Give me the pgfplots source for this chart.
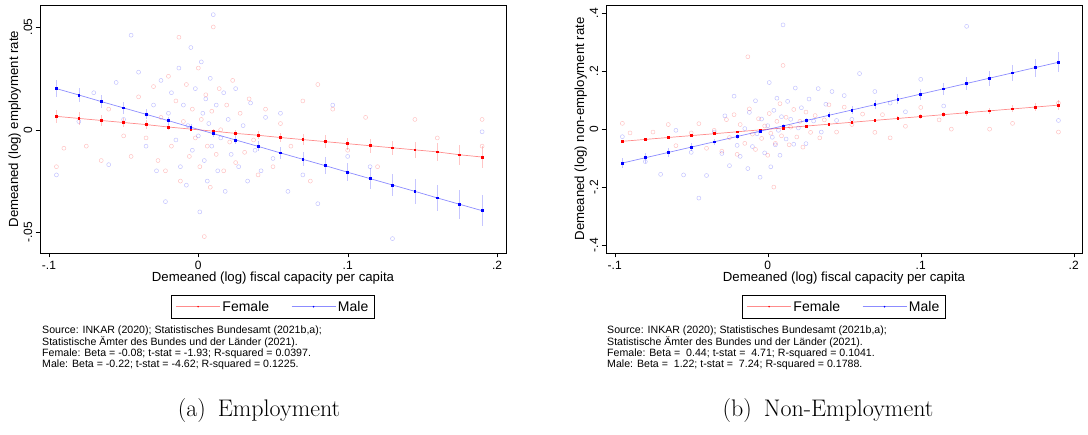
\documentclass[border=0pt]{standalone}
\usepackage{pgfplots}
\usepackage{pgfplotstable}
\pgfplotsset{compat=1.18}
\usepackage{fontspec}
\setsansfont{Liberation Sans}
\pgfplotstableread{
x y yy s
-0.095 -0.022 -0.026 2
-0.08 0.004 -0.112 2
-0.07 0.018 -0.156 2.5
-0.06 -0.017 -0.004 3
-0.055 0.023 -0.158 1.5
-0.05 0.005 -0.08 2
-0.045 0.046 -0.238 1.2
-0.04 0.028 -0.16 2
-0.035 -0.008 -0.01 4
-0.03 0.012 -0.084 5
-0.028 -0.02 0.046 2
-0.025 0.024 -0.126 3
-0.022 -0.035 0.114 4
-0.02 0.008 -0.056 6
-0.018 0.018 -0.094 5
-0.015 -0.005 0.002 4
-0.013 0.03 -0.136 3
-0.012 -0.018 0.058 5
-0.01 0.012 -0.06 6
-0.008 -0.027 0.098 4
-0.007 0.002 -0.016 5
-0.005 0.04 -0.166 3
-0.004 -0.01 0.035 6
-0.002 0.02 -0.082 4
0 -0.003 0.012 5
0.001 -0.04 0.161 2
0.002 0.033 -0.13 5
0.003 0.008 -0.028 4
0.004 -0.015 0.065 6
0.005 0.015 -0.054 3
0.006 -0.025 0.107 4
0.007 0.003 -0.004 5
0.008 0.025 -0.09 4
0.009 -0.008 0.043 6
0.01 0.056 0.36 2
0.012 0.012 -0.034 4
0.013 -0.02 0.096 5
0.015 -0.004 0.034 3
0.017 0.018 -0.052 5
0.018 -0.03 0.142 3
0.02 0.005 0.004 4
0.022 -0.012 0.074 5
0.025 0.02 -0.05 3
0.027 -0.018 0.104 4
0.03 0.002 0.028 3
0.033 -0.025 0.14 3
0.035 0.013 -0.01 2
0.038 -0.01 0.086 4
0.042 -0.02 0.13 5
0.045 0.006 0.03 2
0.05 -0.014 0.116 3
0.055 0.008 0.034 2
0.06 -0.03 0.192 2
0.07 -0.022 0.13 2
0.08 -0.036 0.09 5
0.09 0.012 0.06 2
0.1 -0.013 0.172 1.5
0.115 -0.018 0.08 1.5
0.13 -0.053 0.355 1.5
0.19 -0.001 0.03 1.5
}\blue
\pgfplotstableread{
x y yy s
-0.095 -0.018 0.02 3
-0.09 -0.009 -0.013 1.5
-0.075 -0.008 -0.01 2
-0.065 -0.015 0.016 3
-0.06 0.01 -0.057 2
-0.05 -0.003 -0.013 2
-0.045 -0.013 0.019 2
-0.04 0.016 -0.066 2
-0.035 -0.004 -0.004 3
-0.03 0.021 -0.076 4
-0.027 -0.015 0.033 3
-0.025 0.006 -0.029 6
-0.022 -0.02 0.05 3
-0.02 0.026 -0.087 3
-0.018 -0.008 0.016 5
-0.015 0.014 -0.049 4
-0.013 0.045 0.25 1.5
-0.012 -0.025 0.07 4
-0.01 0.004 -0.017 6
-0.008 0.022 -0.07 5
-0.006 -0.013 0.036 5
-0.004 0.01 -0.032 4
-0.002 -0.004 0.011 6
0 0.03 -0.09 3
0.001 -0.018 0.054 5
0.002 0.005 -0.014 5
0.004 -0.052 -0.2 1.5
0.005 0.017 -0.049 4
0.006 -0.008 0.027 6
0.008 -0.028 0.088 3
0.009 0.009 -0.023 5
0.01 0.05 0.22 3
0.012 -0.012 0.041 5
0.014 0.02 -0.054 4
0.015 0 0.007 5
0.017 -0.02 0.068 4
0.019 0.012 -0.027 3
0.021 -0.006 0.027 5
0.023 0.024 -0.062 3
0.025 -0.016 0.059 4
0.028 0.008 -0.011 4
0.031 -0.011 0.047 3
0.034 0.015 -0.03 3
0.037 -0.005 0.032 5
0.04 -0.022 0.084 3
0.045 0.01 -0.01 3
0.05 -0.018 0.076 6
0.055 0.003 0.016 2
0.062 -0.008 0.052 2
0.07 0.014 -0.011 2
0.075 -0.025 0.05 6
0.08 0.022 -0.03 1.5
0.09 0.01 0.01 2
0.1 -0.01 0.075 1.5
0.112 0.006 0.032 1.5
0.12 -0.018 0 1.5
0.145 0.005 0 1.5
0.16 -0.004 0.02 1.5
0.19 0.005 -0.01 1.5
0.19 -0.008 0.09 1.5
}\red
\pgfplotstableread{
x f fe m me F FE M ME
-0.095 0.0065 0.003 0.0200 0.004 -0.0420 0.006 -0.1170 0.018
-0.080 0.0055 0.003 0.0169 0.0035 -0.0354 0.006 -0.0987 0.017
-0.065 0.0045 0.0025 0.0137 0.003 -0.0288 0.005 -0.0804 0.015
-0.050 0.0035 0.002 0.0106 0.0028 -0.0223 0.005 -0.0620 0.013
-0.035 0.0025 0.002 0.0075 0.0025 -0.0157 0.004 -0.0437 0.011
-0.020 0.0013 0.0015 0.0044 0.002 -0.0091 0.004 -0.0254 0.009
-0.005 0.0003 0.001 0.0012 0.0015 -0.0025 0.003 -0.0071 0.007
0.010 -0.0007 0.001 -0.0019 0.0015 0.0041 0.003 0.0112 0.007
0.025 -0.0018 0.0015 -0.0050 0.002 0.0106 0.004 0.0296 0.009
0.040 -0.0027 0.002 -0.0081 0.0025 0.0172 0.004 0.0479 0.011
0.055 -0.0038 0.002 -0.0113 0.003 0.0238 0.005 0.0662 0.013
0.070 -0.0048 0.0025 -0.0144 0.0035 0.0304 0.006 0.0845 0.015
0.085 -0.0058 0.003 -0.0175 0.004 0.0370 0.007 0.1028 0.017
0.100 -0.0068 0.003 -0.0207 0.0045 0.0435 0.008 0.1212 0.019
0.115 -0.0078 0.0035 -0.0238 0.005 0.0501 0.009 0.1395 0.021
0.130 -0.0088 0.0035 -0.0269 0.0055 0.0567 0.010 0.1578 0.023
0.145 -0.0098 0.004 -0.0300 0.006 0.0633 0.011 0.1761 0.026
0.160 -0.0108 0.0045 -0.0332 0.0065 0.0699 0.012 0.1944 0.028
0.175 -0.0122 0.005 -0.0363 0.007 0.0764 0.013 0.2128 0.031
0.190 -0.0133 0.0055 -0.0394 0.0075 0.0830 0.016 0.2310 0.035
}\bins
\pgfplotsset{
  base/.style={scale only axis, height=248pt, font=\sffamily\fontsize{12}{13}\selectfont,
    /pgf/number format/assume math mode=true, scaled y ticks=false,
    tick style={black}, xtick={-0.1,0,0.1,0.2}, xticklabels={-.1,0,.1,.2},
    yticklabel style={rotate=90}, tick align=outside, xtick pos=bottom, ytick pos=left,
    axis line style={black, line width=0.8pt}, clip=true,
    xlabel={Demeaned (log) fiscal capacity per capita},
    xlabel style={font=\sffamily\fontsize{13.2}{14}\selectfont, yshift=4pt},
    ylabel style={font=\sffamily\fontsize{13.2}{14}\selectfont, yshift=-4pt},
    legend columns=2, legend cell align=left,
    legend style={at={(0.5,-0.168)}, anchor=north, draw=black, font=\sffamily\fontsize{14}{15}\selectfont,
      /tikz/every even column/.append style={column sep=20pt}, inner sep=4pt},
    legend image code/.code={\draw[#1, mark=none] (0cm,0cm) -- (1.55cm,0cm); \fill[#1, draw opacity=0, fill opacity=1] (0.775cm,0cm) circle (0.9pt);},
  },
  sc/.style={only marks, forget plot, scatter, point meta=0, point meta min=0, point meta max=1,
    mark=o, visualization depends on={\thisrow{s}\as\sz},
    scatter/@pre marker code/.append style={/tikz/mark size=\sz},
    scatter/use mapped color={draw=#1, draw opacity=0.25, fill=none}, line width=0.45pt},
  bn/.style={#1, draw opacity=0.45, line width=0.7pt, mark=square*, mark size=0.9pt,
    mark options={#1, draw opacity=1, fill opacity=1},
    error bars/.cd, y dir=both, y explicit, error bar style={#1!50, line width=0.6pt}, error mark=none},
}
\begin{document}
\begin{tikzpicture}
\path (0pt,0pt) rectangle (1088pt,-435pt);
\begin{axis}[base, at={(40pt,-253pt)}, anchor=south west, width=466pt,
  xmin=-0.106, xmax=0.206, ymin=-0.060, ymax=0.0607,
  ytick={-0.05,0,0.05}, yticklabels={-.05,0,.05},
  ylabel={Demeaned (log) employment rate}]
\addplot[sc=red] table[x=x,y=y] {\red};
\addplot[sc=blue] table[x=x,y=y] {\blue};
\addplot[bn=red] table[x=x,y=f,y error=fe] {\bins};
\addlegendentry{Female}
\addplot[bn=blue] table[x=x,y=m,y error=me] {\bins};
\addlegendentry{Male}
\end{axis}
\begin{axis}[base, at={(606pt,-253pt)}, anchor=south west, width=476pt,
  xmin=-0.1057, xmax=0.2054, ymin=-0.4276, ymax=0.4287,
  ytick={-0.4,-0.2,0,0.2,0.4}, yticklabels={-.4,-.2,0,.2,.4},
  ylabel={Demeaned (log) non-employment rate}]
\addplot[sc=red] table[x=x,y=yy] {\red};
\addplot[sc=blue] table[x=x,y=yy] {\blue};
\addplot[bn=red] table[x=x,y=F,y error=FE] {\bins};
\addlegendentry{Female}
\addplot[bn=blue] table[x=x,y=M,y error=ME] {\bins};
\addlegendentry{Male}
\end{axis}
\node[anchor=north west, align=left, inner sep=0pt, font=\sffamily\fontsize{10.6}{11.2}\selectfont] at (42pt,-326pt)
{Source: INKAR (2020); Statistisches Bundesamt (2021b,a);\\Statistische Ämter des Bundes und der Länder (2021).\\Female: Beta = -0.08; t-stat = -1.93; R-squared = 0.0397.\\Male: Beta = -0.22; t-stat = -4.62; R-squared = 0.1225.};
\node[anchor=north west, align=left, inner sep=0pt, font=\sffamily\fontsize{10.6}{11.2}\selectfont] at (607pt,-326pt)
{Source: INKAR (2020); Statistisches Bundesamt (2021b,a);\\Statistische Ämter des Bundes und der Länder (2021).\\Female: Beta = \ 0.44; t-stat = \ 4.71; R-squared = 0.1041.\\Male: Beta = \ 1.22; t-stat = \ 7.24; R-squared = 0.1788.};
\node[font=\fontsize{24}{28}\selectfont] at (259pt,-411pt) {(a)\enspace Employment};
\node[font=\fontsize{24}{28}\selectfont] at (828pt,-411pt) {(b)\enspace Non-Employment};
\end{tikzpicture}
\end{document}
